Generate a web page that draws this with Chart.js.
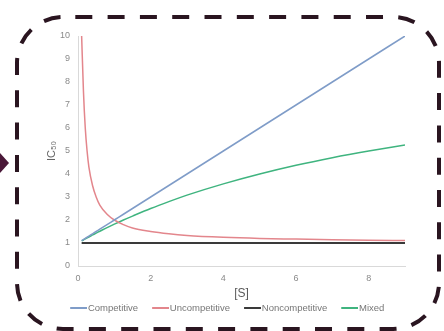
<!DOCTYPE html>
<html>
<head>
<meta charset="utf-8">
<script src="https://cdn.jsdelivr.net/npm/chart.js@4/dist/chart.umd.min.js"></script>
<style>
  html, body { margin: 0; padding: 0; background: #ffffff; }
  #wrap { width: 444px; height: 331px; position: relative; }
</style>
</head>
<body>
<div id="wrap"><canvas id="c" width="444" height="331"></canvas></div>
<script>
// ---- data ----
const sValues        = [0.1, 0.15, 0.2, 0.25, 0.3, 0.4, 0.5, 0.6, 0.8, 1, 1.25, 1.5, 2, 2.5, 3, 4, 5, 6, 7, 8, 9];
const competitive    = [1.1, 1.15, 1.2, 1.25, 1.3, 1.4, 1.5, 1.6, 1.8, 2, 2.25, 2.5, 3, 3.5, 4, 5, 6, 7, 8, 9, 10];
const uncompetitive  = [10, 7.6, 6, 5, 4.3, 3.5, 3, 2.65, 2.25, 2, 1.8, 1.65, 1.5, 1.4, 1.33, 1.25, 1.2, 1.17, 1.14, 1.12, 1.11];
const noncompetitive = [1, 1, 1, 1, 1, 1, 1, 1, 1, 1, 1, 1, 1, 1, 1, 1, 1, 1, 1, 1, 1];
const mixed          = [1.09, 1.13, 1.18, 1.22, 1.26, 1.35, 1.43, 1.51, 1.67, 1.82, 2.0, 2.17, 2.5, 2.8, 3.08, 3.57, 4.0, 4.38, 4.71, 5.0, 5.26];
const seriesNames    = ['Competitive', 'Uncompetitive', 'Noncompetitive', 'Mixed'];
const xTickValues    = [0, 2, 4, 6, 8];
const yTickValues    = [0, 1, 2, 3, 4, 5, 6, 7, 8, 9, 10];

const colors = ['#7f9cc8', '#e3868c', '#3a3a3a', '#3fb47f'];
const widths = [1.5, 1.5, 2, 1.5];
const seriesData = [competitive, uncompetitive, noncompetitive, mixed];

function pts(ys) { return sValues.map((x, i) => ({ x: x, y: ys[i] })); }

// legend swatch: transparent gap on the left, line on the right
const LEG_BOX = 23;
function swatch(color) {
  const c = document.createElement('canvas');
  c.width = 31; c.height = 2;
  const g = c.getContext('2d');
  g.fillStyle = color;
  g.fillRect(31 - 17, 0, 17, 2);
  return c;
}

const frame = {
  id: 'frame',
  afterDraw(chart) {
    const ctx = chart.ctx;
    ctx.save();
    ctx.strokeStyle = '#2a1520';
    ctx.lineWidth = 4;
    const x = 17, y = 17, w = 422, h = 312, r = 46;
    const perim = 2 * (w - 2 * r) + 2 * (h - 2 * r) + 2 * Math.PI * r;
    const period = perim / 43;
    ctx.setLineDash([17, period - 17]);
    ctx.lineDashOffset = 20;
    ctx.beginPath();
    ctx.roundRect(x, y, w, h, r);
    ctx.stroke();
    ctx.setLineDash([]);
    ctx.fillStyle = '#4a1838';
    ctx.beginPath();
    ctx.moveTo(0, 153);
    ctx.lineTo(9, 163);
    ctx.lineTo(0, 173);
    ctx.closePath();
    ctx.fill();
    ctx.restore();
  }
};

new Chart(document.getElementById('c'), {
  type: 'line',
  data: {
    datasets: seriesNames.map((n, i) => ({
      label: n,
      data: pts(seriesData[i]),
      borderColor: colors[i],
      backgroundColor: colors[i],
      borderWidth: widths[i],
      pointRadius: 0,
      fill: false,
      cubicInterpolationMode: 'monotone'
    }))
  },
  options: {
    responsive: false,
    animation: false,
    layout: { padding: { top: 36, right: 39, bottom: 8, left: 39.5 } },
    plugins: {
      tooltip: { enabled: false },
      legend: {
        position: 'bottom',
        labels: {
          color: '#767676',
          font: { family: 'Liberation Sans', size: 9.5 },
          padding: 4,
          usePointStyle: true,
          pointStyleWidth: LEG_BOX,
          generateLabels(chart) {
            return chart.data.datasets.map((d, i) => ({
              text: d.label,
              fillStyle: colors[i],
              strokeStyle: colors[i],
              lineWidth: 0,
              pointStyle: swatch(colors[i]),
              fontColor: '#767676',
              hidden: false,
              datasetIndex: i
            }));
          }
        }
      }
    },
    scales: {
      x: {
        type: 'linear',
        min: 0, max: 9,
        afterFit(s) { s.height = 33.5; },
        afterBuildTicks(s) { s.ticks = xTickValues.map(v => ({ value: v })); },
        grid: { display: false, drawTicks: false },
        border: { display: true, color: '#d9d9d9', width: 1 },
        ticks: { color: '#8a8a8a', font: { family: 'Liberation Sans', size: 9 }, padding: 7, maxRotation: 0 },
        title: { display: true, text: '[S]', color: '#5a5a5a', font: { family: 'Liberation Sans', size: 12, lineHeight: 1 }, padding: 0 }
      },
      y: {
        min: 0, max: 10,
        afterFit(s) { s.width = 38.5; },
        afterBuildTicks(s) { s.ticks = yTickValues.map(v => ({ value: v })); },
        grid: { display: false, drawTicks: false },
        border: { display: true, color: '#d9d9d9', width: 1 },
        ticks: { color: '#8a8a8a', font: { family: 'Liberation Sans', size: 9 }, padding: 8 },
        title: { display: true, text: 'IC₅₀', color: '#666666', font: { family: 'Liberation Sans', size: 11, lineHeight: 1 }, padding: { top: 7, bottom: 0 } }
      }
    }
  },
  plugins: [frame]
});
</script>
</body>
</html>
